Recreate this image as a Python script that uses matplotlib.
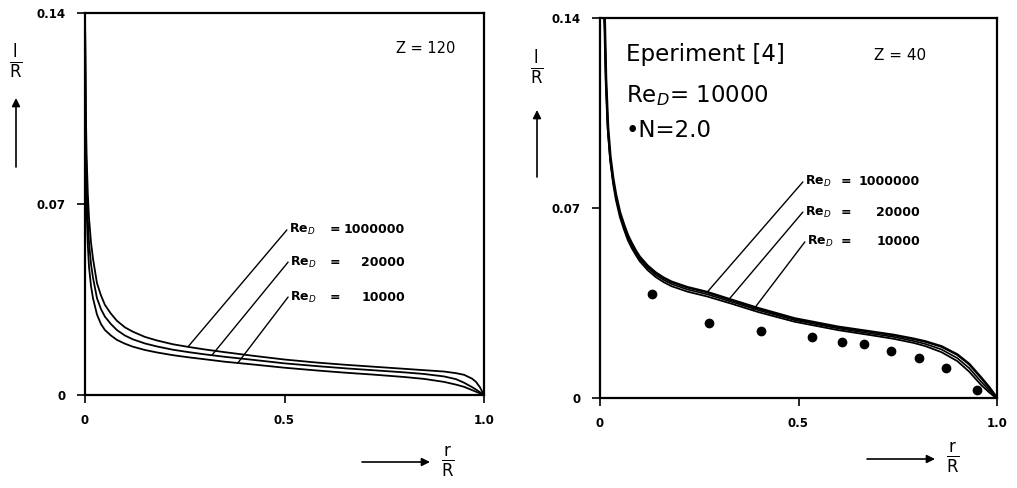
import numpy as np
import matplotlib
matplotlib.use('Agg')
import matplotlib.pyplot as plt
from matplotlib.patches import FancyArrowPatch

plt.rcParams['font.family'] = ['DejaVu Sans']

# left panel, Z = 120
xl = [0, 0.002, 0.004, 0.007, 0.01, 0.015, 0.02, 0.03, 0.04, 0.05, 0.065, 0.08, 0.10, 0.12,
      0.15, 0.18, 0.22, 0.26, 0.30, 0.35, 0.42, 0.5, 0.58, 0.65, 0.72, 0.8, 0.85, 0.9,
      0.93, 0.95, 0.97, 0.98, 0.99, 0.995, 1.0]
l_re1e6 = [0.14, 0.105, 0.088, 0.074, 0.065, 0.056, 0.050, 0.041, 0.0365, 0.0330, 0.0298, 0.0272,
           0.0248, 0.0232, 0.0213, 0.0200, 0.0186, 0.0176, 0.0167, 0.0157, 0.0144, 0.0130, 0.0119,
           0.0111, 0.0104, 0.0096, 0.0091, 0.0086, 0.0080, 0.0074, 0.0060, 0.0048, 0.0028, 0.0014, 0]
l_re2e4 = [0.14, 0.095, 0.078, 0.064, 0.056, 0.048, 0.043, 0.0355, 0.0315, 0.0287, 0.026, 0.0238,
           0.0218, 0.0204, 0.0189, 0.0178, 0.0166, 0.0157, 0.0149, 0.0140, 0.0129, 0.0116, 0.0106,
           0.0098, 0.0091, 0.0083, 0.0077, 0.0068, 0.0058, 0.0045, 0.0029, 0.0020, 0.0010, 0.0005, 0]
l_re1e4 = [0.14, 0.085, 0.068, 0.055, 0.047, 0.040, 0.0355, 0.0295, 0.026, 0.0238, 0.0218, 0.0202,
           0.0188, 0.0177, 0.0165, 0.0156, 0.0146, 0.0138, 0.0131, 0.0122, 0.0112, 0.0100, 0.0090,
           0.0082, 0.0075, 0.0066, 0.0059, 0.0048, 0.0038, 0.0030, 0.0018, 0.0012, 0.0006, 0.0003, 0]

# right panel, Z = 40
xr = [0.008, 0.012, 0.015, 0.02, 0.026, 0.033, 0.04, 0.05, 0.06, 0.07, 0.08, 0.09, 0.10, 0.12,
      0.14, 0.16, 0.18, 0.22, 0.27, 0.33, 0.40, 0.49, 0.60, 0.68, 0.74, 0.79, 0.82, 0.86, 0.90,
      0.93, 0.96, 0.98, 0.99, 1.0]
r_re1e6 = [0.15, 0.138, 0.118, 0.100, 0.089, 0.081, 0.075, 0.0685, 0.0640, 0.0600, 0.0570, 0.0543,
           0.0520, 0.0487, 0.0462, 0.0443, 0.0428, 0.0408, 0.0390, 0.0362, 0.0330, 0.0293, 0.0262,
           0.0245, 0.0232, 0.0218, 0.0208, 0.0190, 0.0160, 0.0125, 0.0075, 0.0040, 0.0020, 0]
r_re2e4 = [0.15, 0.137, 0.117, 0.099, 0.088, 0.080, 0.074, 0.0676, 0.0631, 0.0591, 0.0561, 0.0535,
           0.0512, 0.0479, 0.0454, 0.0435, 0.0420, 0.0400, 0.0382, 0.0355, 0.0323, 0.0287, 0.0256,
           0.0238, 0.0225, 0.0210, 0.0199, 0.0179, 0.0147, 0.0110, 0.0060, 0.0029, 0.0013, 0]
r_re1e4 = [0.15, 0.136, 0.116, 0.098, 0.087, 0.079, 0.073, 0.0667, 0.0622, 0.0582, 0.0552, 0.0527,
           0.0504, 0.0471, 0.0446, 0.0427, 0.0412, 0.0392, 0.0374, 0.0348, 0.0316, 0.0281, 0.0250,
           0.0232, 0.0218, 0.0203, 0.0191, 0.0169, 0.0136, 0.0097, 0.0048, 0.0021, 0.0009, 0]

# experiment [4], Re_D = 10000, N = 2.0
exp_x = [0.130, 0.275, 0.405, 0.535, 0.610, 0.665, 0.732, 0.804, 0.871, 0.949]
exp_y = [0.0383, 0.0275, 0.0247, 0.0224, 0.0205, 0.0198, 0.0173, 0.0146, 0.0109, 0.0029]

re_labels = ['1000000', '20000', '10000']
x_ticks = [0, 0.5, 1.0]
x_ticklabels = ['0', '0.5', '1.0']
y_ticks = [0, 0.07, 0.14]
y_ticklabels = ['0', '0.07', '0.14']

W, H = 1017, 488
fig = plt.figure(figsize=(W / 100, H / 100), dpi=100)


def fx(px):
    return px / W


def fy(py):
    return 1 - py / H


def setup(ax):
    ax.set_xlim(0, 1.0)
    ax.set_ylim(0, 0.14)
    ax.set_xticks(x_ticks)
    ax.set_xticklabels(x_ticklabels, fontsize=8.5, fontweight='bold')
    ax.set_yticks(y_ticks)
    ax.set_yticklabels(y_ticklabels, fontsize=8.5, fontweight='bold')
    ax.tick_params(direction='out', length=6, width=1.2, pad=8)
    for s in ax.spines.values():
        s.set_linewidth(1.6)


def leaders(ax, cx, xs, curves, starts, texts, eq_x, num_x):
    for xp, c, (tx, ty), lab in zip(xs, curves, starts, texts):
        yp = np.interp(xp, cx, c)
        ax.annotate('', xy=(xp, yp), xytext=(tx, ty),
                    arrowprops=dict(arrowstyle='-', lw=1.0, color='black',
                                    shrinkA=0, shrinkB=0))
        ax.text(tx + 0.005, ty, r'Re$_D$', fontsize=9, fontweight='bold', va='center', ha='left')
        ax.text(eq_x, ty, '=', fontsize=9, fontweight='bold', va='center', ha='left')
        ax.text(num_x, ty, lab, fontsize=9, fontweight='bold', va='center', ha='right')


# left panel
ax1 = fig.add_axes([fx(85), fy(395), fx(484) - fx(85), fy(13) - fy(395)])
for c in (l_re1e6, l_re2e4, l_re1e4):
    ax1.plot(xl, c, color='black', lw=1.3)
setup(ax1)
leaders(ax1, xl, [0.258, 0.318, 0.383], [l_re1e6, l_re2e4, l_re1e4],
        [(0.506, 0.0605), (0.509, 0.0487), (0.509, 0.0359)], re_labels, 0.614, 0.802)
ax1.text(0.78, 0.127, 'Z = 120', fontsize=10.5, va='center', ha='left')

# right panel
ax2 = fig.add_axes([fx(600), fy(398), fx(997) - fx(600), fy(18) - fy(398)])
for c, lw in ((r_re1e6, 1.9), (r_re2e4, 1.2), (r_re1e4, 1.3)):
    ax2.plot(xr, c, color='black', lw=lw)
ax2.plot(exp_x, exp_y, 'o', color='black', ms=6)
setup(ax2)
leaders(ax2, xr, [0.27, 0.322, 0.385], [r_re1e6, r_re2e4, r_re1e4],
        [(0.511, 0.0796), (0.511, 0.0685), (0.516, 0.0575)], re_labels, 0.605, 0.806)
ax2.text(0.065, 0.1264, 'Eperiment [4]', fontsize=16.5, va='center', ha='left')
ax2.text(0.065, 0.1115, r'Re$_D$= 10000', fontsize=16.5, va='center', ha='left')
ax2.text(0.065, 0.0987, '•N=2.0', fontsize=16.5, va='center', ha='left')
ax2.text(0.69, 0.126, 'Z = 40', fontsize=11, va='center', ha='left')

# axis labels with arrows
arrow = dict(arrowstyle='-|>', lw=1.2, color='black', mutation_scale=12,
             shrinkA=0, shrinkB=0)
fig.text(fx(16), fy(62), r'$\frac{\mathrm{l}}{\mathrm{R}}$', fontsize=17, ha='center', va='center')
fig.add_artist(FancyArrowPatch((fx(16), fy(167)), (fx(16), fy(98)),
                               transform=fig.transFigure, **arrow))
fig.text(fx(537), fy(68), r'$\frac{\mathrm{l}}{\mathrm{R}}$', fontsize=17, ha='center', va='center')
fig.add_artist(FancyArrowPatch((fx(537), fy(177)), (fx(537), fy(110)),
                               transform=fig.transFigure, **arrow))

fig.text(fx(448), fy(462), r'$\frac{\mathrm{r}}{\mathrm{R}}$', fontsize=17, ha='center', va='center')
fig.add_artist(FancyArrowPatch((fx(362), fy(462)), (fx(430), fy(462)),
                               transform=fig.transFigure, **arrow))
fig.text(fx(953), fy(458), r'$\frac{\mathrm{r}}{\mathrm{R}}$', fontsize=17, ha='center', va='center')
fig.add_artist(FancyArrowPatch((fx(867), fy(459)), (fx(935), fy(459)),
                               transform=fig.transFigure, **arrow))

fig.savefig('out.png', dpi=100)
